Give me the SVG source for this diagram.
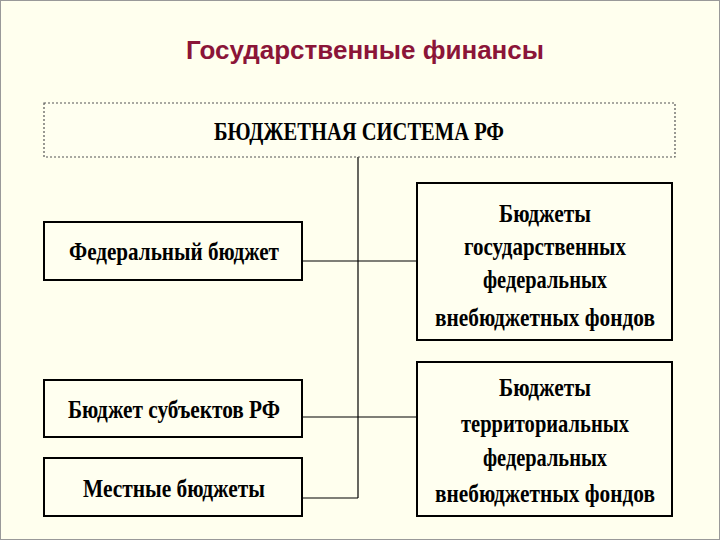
<svg xmlns="http://www.w3.org/2000/svg" width="720" height="540" viewBox="0 0 720 540">
<style>
.b{fill:#FFFFF0;stroke:#000;stroke-width:2}
.t{font-family:"Liberation Serif",serif;font-weight:bold;font-size:25px;fill:#000;text-anchor:middle}
.c{stroke:#000;stroke-width:1.2;fill:none}
</style>
<rect x="0" y="0" width="720" height="540" fill="#FFFFEE"/>
<rect x="0.5" y="0.5" width="719" height="539" fill="none" stroke="#999" stroke-width="1"/>
<text x="365" y="59" font-family="Liberation Sans,sans-serif" font-weight="bold" font-size="26" fill="#8B1538" text-anchor="middle">Государственные финансы</text>
<g id="connectors">
<line class="c" x1="358" y1="157" x2="358" y2="498"/>
<line class="c" x1="302" y1="261" x2="417" y2="261"/>
<line class="c" x1="302" y1="417" x2="417" y2="417"/>
<line class="c" x1="302" y1="498" x2="358" y2="498"/>
</g>
<g id="root"><rect x="44" y="103" width="631" height="54" fill="#FFFFF0" stroke="#555" stroke-width="1.2" stroke-dasharray="2,2"/><text class="t" x="359" y="140" textLength="290" lengthAdjust="spacingAndGlyphs">БЮДЖЕТНАЯ СИСТЕМА РФ</text></g>
<g id="fed"><rect class="b" x="44" y="222" width="258" height="58"/><text class="t" x="174" y="260" textLength="210" lengthAdjust="spacingAndGlyphs">Федеральный бюджет</text></g>
<g id="subj"><rect class="b" x="44" y="380" width="258" height="57"/><text class="t" x="174" y="418" textLength="212" lengthAdjust="spacingAndGlyphs">Бюджет субъектов РФ</text></g>
<g id="local"><rect class="b" x="44" y="458" width="258" height="58"/><text class="t" x="174" y="497" textLength="182" lengthAdjust="spacingAndGlyphs">Местные бюджеты</text></g>
<g id="gos"><rect class="b" x="417" y="183" width="255" height="157"/>
<text class="t" x="545" y="222" textLength="92" lengthAdjust="spacingAndGlyphs">Бюджеты</text>
<text class="t" x="545" y="255" textLength="162" lengthAdjust="spacingAndGlyphs">государственных</text>
<text class="t" x="545" y="288" textLength="124" lengthAdjust="spacingAndGlyphs">федеральных</text>
<text class="t" x="545" y="326" textLength="220" lengthAdjust="spacingAndGlyphs">внебюджетных фондов</text></g>
<g id="terr"><rect class="b" x="417" y="362" width="255" height="154"/>
<text class="t" x="545" y="396" textLength="92" lengthAdjust="spacingAndGlyphs">Бюджеты</text>
<text class="t" x="545" y="432" textLength="168" lengthAdjust="spacingAndGlyphs">территориальных</text>
<text class="t" x="545" y="466" textLength="124" lengthAdjust="spacingAndGlyphs">федеральных</text>
<text class="t" x="545" y="502" textLength="220" lengthAdjust="spacingAndGlyphs">внебюджетных фондов</text></g>
</svg>
